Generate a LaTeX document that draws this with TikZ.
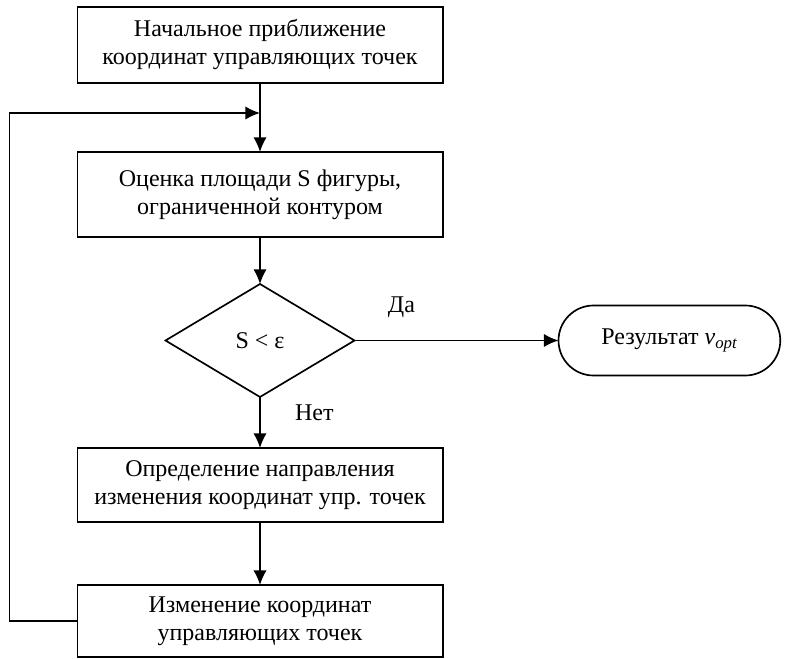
\documentclass[tikz,border=0pt]{standalone}
\usepackage{fontspec}
\setmainfont{Liberation Serif}
\usetikzlibrary{arrows.meta}
\usetikzlibrary{shapes.geometric}
\usetikzlibrary{shapes.misc}
\usetikzlibrary{positioning}

\begin{document}
\begin{tikzpicture}[
		node distance=51.75pt,
		font=\fontsize{18}{21}\selectfont,
		line width=1.25pt,
		every node/.style={outer sep=0pt},
		block/.style={draw, align=center, minimum width=274pt, inner sep=2pt},
		decision/.style={draw, diamond, minimum width=141.75pt, minimum height=84.75pt, inner sep=0pt},
		terminal/.style={draw, rounded rectangle, minimum width=173pt, minimum height=52.5pt},
		arrow/.style={-{Latex[length=11pt, width=10pt]}},
	]
	\useasboundingbox (0,0) rectangle (593.25pt,-494.25pt);
	\node[block, minimum height=57pt] (start) at (195pt,-33.75pt) {Начальное приближение\\координат управляющих точек};
	\coordinate[below=22.5pt of start] (join);
	\node[block, minimum height=63.75pt, below=of start] (est) {Оценка площади S фигуры,\\ограниченной контуром};
	\node[decision, below=35.25pt of est] (cond) {S < ε};
	\node[terminal, right=153pt of cond] (res) {Результат {\itshape v\textsubscript{opt}}};
	\node[block, minimum height=55.5pt, below=38.25pt of cond] (dir) {Определение направления\\изменения координат упр. точек};
	\node[block, minimum height=54pt, below=47.25pt of dir] (upd) {Изменение координат\\управляющих точек};
	\coordinate[left=51pt of upd] (back);

	\draw[arrow] (start) -- (est);
	\draw[arrow] (est) -- (cond);
	\draw[arrow] (cond) -- (res) node[pos=0.23, above=14pt] {Да};
	\draw[arrow] (cond) -- (dir) node[pos=0.3, right=23pt] {Нет};
	\draw[arrow] (dir) -- (upd);
	\draw[arrow] (upd) -- (back) |- (join);
\end{tikzpicture}
\end{document}
